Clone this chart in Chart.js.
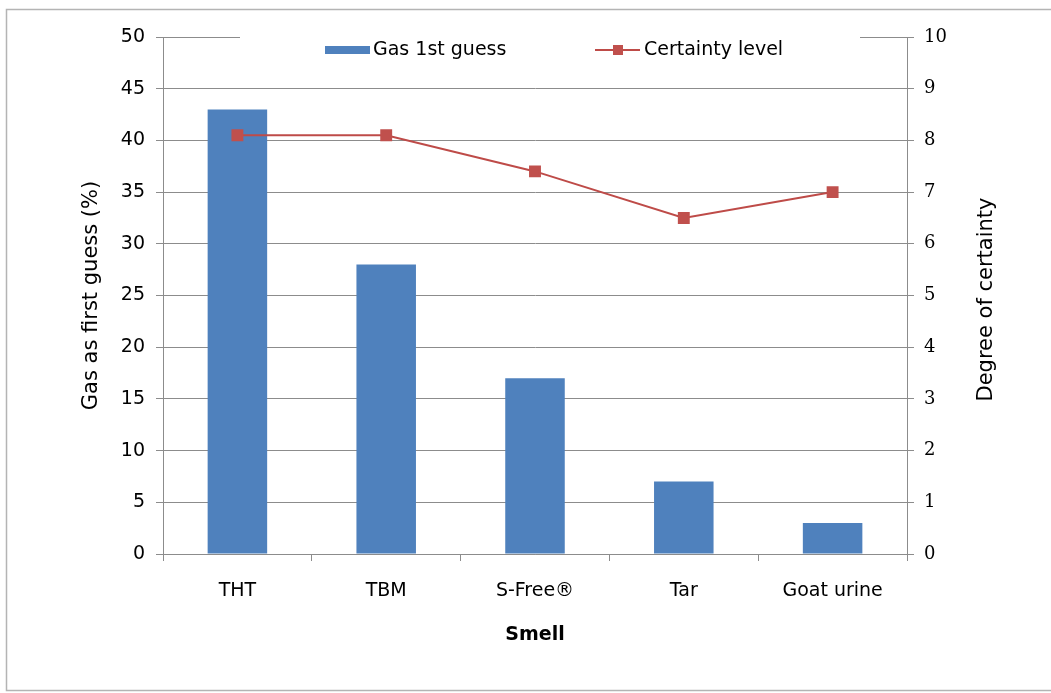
<!DOCTYPE html>
<html>
<head>
<meta charset="utf-8">
<script src="https://cdn.jsdelivr.net/npm/chart.js@4"></script>
<style>
  body { margin: 0; background: #fff; }
  canvas { display: block; }
</style>
</head>
<body>
<canvas id="chart" width="1051" height="693"></canvas>
<script>
const smells = ["THT", "TBM", "S-Free®", "Tar", "Goat urine"];
const gasFirstGuess = [43, 28, 17, 7, 3];
const certaintyLevel = [8.1, 8.1, 7.4, 6.5, 7.0];
const leftTicks = [0, 5, 10, 15, 20, 25, 30, 35, 40, 45, 50];
const rightTicks = [0, 1, 2, 3, 4, 5, 6, 7, 8, 9, 10];
const rightTitle = "Degree of certainty";

const FONT = "'DejaVu Sans', sans-serif";
const GRID = "#8c8c8c";
const BLUE = "#4f81bd";
const RED = "#be4b48";

// cadre gris autour du graphique
const frame = {
  id: "frame",
  beforeDraw(chart) {
    const ctx = chart.ctx;
    ctx.save();
    ctx.fillStyle = "#fff";
    ctx.fillRect(0, 0, chart.width, chart.height);
    ctx.strokeStyle = "#b4b4b4";
    ctx.lineWidth = 1.5;
    ctx.strokeRect(6.5, 9.5, 1060, 681);
    ctx.restore();
  },
};

// légende dans la zone du graphique, fond blanc
const legendBox = {
  id: "legendBox",
  beforeDatasetsDraw(chart) {
    const ctx = chart.ctx;
    const ds = chart.data.datasets;
    ctx.save();
    ctx.fillStyle = "#fff";
    ctx.fillRect(240, 26, 620, 26);
    ctx.font = "19px " + FONT;
    ctx.textBaseline = "middle";
    const y = 50;
    ctx.fillStyle = ds[0].backgroundColor;
    ctx.fillRect(325, y - 4, 45, 8);
    ctx.fillStyle = "#000";
    ctx.fillText(ds[0].label, 373, y);
    ctx.strokeStyle = ds[1].borderColor;
    ctx.lineWidth = 2;
    ctx.beginPath();
    ctx.moveTo(595, y);
    ctx.lineTo(640, y);
    ctx.stroke();
    ctx.fillStyle = ds[1].pointBackgroundColor;
    ctx.fillRect(613, y - 5, 10, 10);
    ctx.fillStyle = "#000";
    ctx.fillText(ds[1].label, 644, y);
    ctx.restore();
  },
};

// titre de l'axe droit, lu de bas en haut
const rightAxisTitle = {
  id: "rightAxisTitle",
  afterDraw(chart) {
    const ctx = chart.ctx;
    const a = chart.chartArea;
    ctx.save();
    ctx.translate(987, (a.top + a.bottom) / 2 + 4);
    ctx.rotate(-Math.PI / 2);
    ctx.font = "21px " + FONT;
    ctx.fillStyle = "#000";
    ctx.textAlign = "center";
    ctx.textBaseline = "middle";
    ctx.fillText(rightTitle, 0, 0);
    ctx.restore();
  },
};

new Chart(document.getElementById("chart"), {
  type: "bar",
  data: {
    labels: smells,
    datasets: [
      {
        label: "Gas 1st guess",
        data: gasFirstGuess,
        backgroundColor: BLUE,
        borderWidth: 0,
        yAxisID: "y",
        barPercentage: 0.4,
        categoryPercentage: 1,
        order: 2,
      },
      {
        label: "Certainty level",
        type: "line",
        data: certaintyLevel,
        borderColor: RED,
        borderWidth: 2,
        pointStyle: "rect",
        pointRadius: 7,
        pointBackgroundColor: "#c0504d",
        pointBorderColor: "#c0504d",
        yAxisID: "y1",
        order: 1,
      },
    ],
  },
  options: {
    responsive: false,
    animation: false,
    devicePixelRatio: 1,
    layout: { padding: { top: 37, left: 0, right: 0, bottom: 0 } },
    plugins: {
      legend: { display: false },
      tooltip: { enabled: false },
    },
    scales: {
      x: {
        grid: { drawOnChartArea: false, offset: true, tickLength: 7, color: GRID },
        border: { color: GRID },
        ticks: { color: "#000", font: { family: FONT, size: 19 }, padding: 19 },
        title: {
          display: true,
          text: "Smell",
          color: "#000",
          font: { family: FONT, size: 19, weight: "bold" },
          padding: { bottom: 47 },
        },
        afterFit: (s) => { s.height = 139; },
      },
      y: {
        position: "left",
        min: 0,
        max: 50,
        afterBuildTicks: (s) => { s.ticks = leftTicks.map((v) => ({ value: v })); },
        grid: { color: GRID, tickLength: 7 },
        border: { color: GRID },
        ticks: { color: "#000", font: { family: FONT, size: 19 }, padding: 11 },
        title: {
          display: true,
          text: "Gas as first guess (%)",
          color: "#000",
          font: { family: FONT, size: 21 },
          padding: { top: 79 },
        },
        afterFit: (s) => { s.width = 163; },
      },
      y1: {
        position: "right",
        min: 0,
        max: 10,
        afterBuildTicks: (s) => { s.ticks = rightTicks.map((v) => ({ value: v })); },
        grid: { drawOnChartArea: false, color: GRID, tickLength: 7 },
        border: { color: GRID },
        ticks: { color: "#000", font: { family: "'DejaVu Serif', serif", size: 18 }, padding: 10 },
        afterFit: (s) => { s.width = 144; },
      },
    },
  },
  plugins: [frame, legendBox, rightAxisTitle],
});
</script>
</body>
</html>
